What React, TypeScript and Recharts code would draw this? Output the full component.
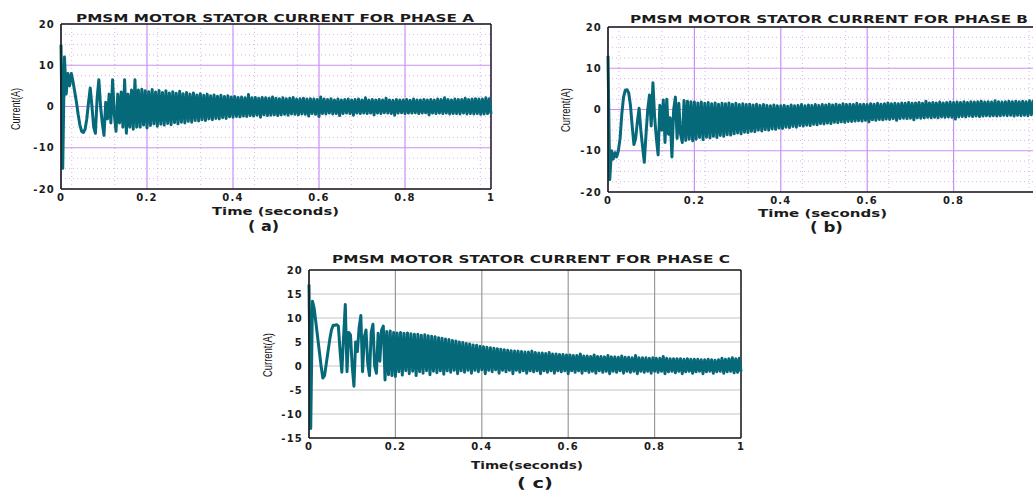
import React from "react";
import {
  LineChart,
  Line,
  XAxis,
  YAxis,
  CartesianGrid,
  ReferenceLine,
} from "recharts";

// sample step of the simulation traces (seconds)
const SAMPLE_STEP = 0.004;

const X_TICKS = [0, 0.2, 0.4, 0.6, 0.8, 1];
// panel b is cropped at the right edge, its "1" label is not in view
const X_TICKS_B = [0, 0.2, 0.4, 0.6, 0.8];
const Y_TICKS_AB = [-20, -10, 0, 10, 20];
const Y_TICKS_C = [-15, -10, -5, 0, 5, 10, 15, 20];

// phase A stator current (A), one value per sample step
const PHASE_A = [
  15, -15, 12, 3, 8, 5, 8, 6, 3.5, 1,
  -2, -4.5, -6, -6.3, -5.5, -3, 1, 4.5, 0, -5,
  -6.5, 2, 6.5, 0, -4, -7, 1, -3, 3, -4,
  6.5, -2, -6, 3, -4, 3.5, -5, 6.5, -6.5, 3,
  -5, 4, -5.5, 6.5, -5, 4, -5, 4.2, -4.5, 3.8,
  -5.2, 3.6, -4.6, 4.1, -4.2, 3.5, -4.8, 3.9, -4.3, 3.4,
  -4.5, 3.8, -4.1, 3.3, -4.4, 3.6, -3.9, 3.2, -4.2, 3.7,
  -3.8, 3.1, -4.0, 3.4, -3.6, 3.0, -3.8, 3.3, -3.4, 2.8,
  -3.5, 3.1, -3.2, 2.7, -3.4, 3.0, -3.0, 2.6, -3.2, 2.8,
  -2.9, 2.5, -3.0, 2.7, -2.7, 2.4, -2.9, 2.6, -2.5, 2.3,
  -2.6, 2.4, -2.4, 2.2, -2.5, 2.3, -2.3, 2.1, -2.4, 2.9,
  -2.2, 2.1, -2.3, 2.2, -2.1, 2.0, -2.6, 2.2, -2.0, 2.1,
  -2.2, 2.0, -2.1, 2.3, -2.0, 2.0, -2.2, 1.9, -2.0, 2.1,
  -1.9, 1.9, -2.1, 2.0, -1.8, 2.2, -1.9, 1.8, -2.0, 1.9,
  -1.8, 2.0, -1.9, 1.8, -2.3, 1.9, -1.7, 1.8, -1.9, 1.7,
  -2.4, 2.3, -1.7, 1.8, -1.8, 1.7, -1.6, 1.9, -1.8, 1.6,
  -1.7, 1.8, -2.2, 1.6, -1.7, 1.7, -1.6, 1.8, -1.7, 1.6,
  -2.1, 1.7, -1.6, 1.8, -1.7, 1.6, -1.6, 2.1, -1.7, 1.6,
  -1.6, 1.7, -2.0, 1.6, -1.6, 1.7, -1.7, 1.6, -1.5, 2.0,
  -1.6, 1.6, -1.7, 1.5, -2.1, 1.7, -1.6, 1.6, -1.5, 1.6,
  -1.7, 1.7, -1.6, 1.5, -1.6, 1.8, -1.5, 1.6, -1.7, 1.6,
  -1.6, 1.7, -1.5, 1.6, -2.0, 1.7, -1.6, 1.6, -1.7, 1.8,
  -1.6, 1.7, -1.7, 2.1, -1.6, 1.7, -1.8, 1.6, -1.7, 1.8,
  -1.7, 1.7, -1.8, 1.7, -1.6, 2.0, -1.8, 1.7, -1.7, 1.8,
  -1.8, 1.9, -1.7, 1.8, -1.9, 1.8, -1.8, 2.1, -1.7, 1.9,
  -1.8,
];

// phase B stator current (A)
const PHASE_B = [
  13, -17, -10, -12, -10.5, -11.5, -10, -7, -1, 3,
  4.7, 4.8, 4, 1, -4, -8.5, -7, -3, 0.3, -5,
  -9, -12.8, -6, 0, 3.5, -4, 6.5, -2, -7, -11,
  1, -5, 2.3, -8, 2.5, -6, -2, -11.5, 0, 3,
  -7, 1.5, -6, -8, 2.2, -7.5, 2, -7.2, 1.9, -7.6,
  1.8, -7.2, 1.6, -6.8, 1.8, -7.3, 1.5, -6.7, 1.7, -6.9,
  1.4, -6.5, 1.6, -6.8, 1.3, -6.3, 1.5, -6.5, 1.4, -6.1,
  1.6, -6.2, 1.3, -5.9, 1.5, -5.7, 1.2, -5.9, 1.4, -5.5,
  1.2, -5.6, 1.3, -5.3, 1.1, -5.4, 1.3, -5.0, 1.0, -5.2,
  1.2, -4.9, 1.0, -5.0, 0.9, -4.7, 1.1, -4.8, 0.9, -4.5,
  0.9, -4.6, 1.0, -4.3, 0.8, -4.4, 1.1, -4.1, 0.9, -4.3,
  1.0, -3.9, 1.2, -4.0, 0.9, -3.8, 1.1, -3.9, 1.0, -3.6,
  1.2, -3.7, 1.0, -3.4, 1.2, -3.5, 1.1, -3.3, 1.3, -3.4,
  1.1, -3.1, 1.3, -3.2, 1.1, -3.0, 1.4, -3.1, 1.2, -2.9,
  1.3, -2.9, 1.2, -2.8, 1.5, -2.7, 1.2, -2.8, 1.3, -2.6,
  1.2, -3.0, 1.4, -2.5, 1.3, -2.6, 1.5, -2.4, 1.3, -2.5,
  1.4, -2.3, 1.6, -2.4, 1.4, -2.2, 1.5, -2.6, 1.4, -2.2,
  1.6, -2.1, 1.5, -2.2, 1.7, -2.1, 1.5, -2.5, 1.6, -2.0,
  1.7, -2.1, 1.5, -2.0, 2.0, -1.9, 1.6, -2.0, 1.7, -1.9,
  1.6, -2.0, 1.8, -1.8, 1.6, -1.9, 1.7, -1.8, 1.8, -1.9,
  1.7, -2.3, 1.8, -1.8, 1.7, -1.7, 1.9, -1.8, 1.7, -1.6,
  1.9, -1.7, 1.8, -1.6, 1.9, -1.7, 2.0, -1.6, 1.8, -1.5,
  1.9, -1.6, 1.8, -1.5, 2.1, -1.6, 1.9, -1.5, 1.8, -1.4,
  1.9, -1.5, 2.0, -1.4, 1.9, -1.6, 2.0, -1.4, 1.9, -1.5,
  2.0, -1.4, 1.9, -1.5, 2.1, -1.3, 2.0, -1.4, 1.9, -1.3,
  2.0,
];

// phase C stator current (A)
const PHASE_C = [
  17, -13, 13.5, 12, 9, 6, 3, 0, -2.5, -2,
  0.5, 3, 5.5, 7.5, 8.5, 8.5, 8.6, 8.3, 3, -1.3,
  6, 12.8, -1.2, 7, 6.5, 0, -4.2, 5, 3, 8,
  10.5, -1.2, 6, 7.5, 0.5, -2, 7, 8.7, 0, -1.5,
  6.8, 1, 7.5, 8.3, -2.9, 7.2, -1.8, 7.3, -2.0, 7.0,
  -2.2, 6.9, -1.2, 7.0, -1.9, 6.8, -1.0, 6.9, -1.6, 6.7,
  -1.1, 6.6, -2.0, 6.6, -1.2, 6.4, -1.5, 6.5, -1.0, 6.3,
  -1.8, 6.2, -1.1, 6.1, -1.4, 5.9, -1.0, 5.8, -1.7, 5.6,
  -1.0, 5.5, -1.3, 5.3, -0.9, 5.2, -1.6, 5.0, -1.0, 4.9,
  -1.3, 4.7, -0.9, 4.6, -1.5, 4.4, -0.9, 4.3, -1.2, 4.1,
  -0.8, 4.0, -1.6, 3.9, -0.9, 3.8, -1.2, 3.7, -0.8, 3.6,
  -1.5, 3.5, -0.9, 3.4, -1.2, 3.3, -0.9, 3.2, -1.6, 3.1,
  -0.9, 3.1, -1.3, 3.0, -1.0, 2.9, -1.5, 2.9, -1.0, 3.1,
  -1.2, 2.8, -1.0, 2.7, -1.6, 2.7, -1.0, 2.6, -1.3, 2.8,
  -1.0, 2.5, -1.5, 2.5, -1.0, 2.4, -1.2, 2.4, -1.0, 2.3,
  -1.6, 2.3, -1.0, 2.2, -1.3, 2.2, -1.0, 2.5, -1.5, 2.1,
  -1.0, 2.1, -1.3, 2.0, -1.1, 2.3, -1.5, 2.0, -1.0, 2.0,
  -1.3, 1.9, -1.1, 2.2, -1.6, 1.9, -1.1, 1.9, -1.3, 1.8,
  -1.0, 2.1, -1.5, 1.8, -1.1, 1.8, -1.3, 1.7, -1.1, 2.2,
  -1.6, 1.7, -1.1, 1.7, -1.3, 1.7, -1.1, 1.6, -1.5, 1.7,
  -1.1, 1.6, -1.3, 1.6, -1.1, 2.0, -1.6, 1.6, -1.2, 1.5,
  -1.1, 1.5, -1.4, 1.5, -1.1, 1.5, -1.6, 1.4, -1.2, 1.5,
  -1.1, 1.4, -1.5, 1.4, -1.2, 1.4, -1.1, 1.3, -1.6, 1.3,
  -1.2, 1.4, -1.1, 1.3, -1.5, 1.2, -1.2, 1.3, -1.1, 1.6,
  -1.5, 1.4, -1.2, 1.5, -1.1, 1.7, -1.4, 1.5, -1.3, 1.6,
  -1.2,
];

const TRACE = "#06697a";
const INK = "#1b1b1b";
const TICK_STYLE = {
  fill: INK,
  fontSize: 10,
  fontWeight: 700,
  fontFamily: "DejaVu Sans",
  letterSpacing: 1.2,
};

// matlab style minor grid: 0.025 s and 2.5 A
const MINOR_X: number[] = [];
for (let i = 1; i < 40; i++) if (i % 8 !== 0) MINOR_X.push(i * 0.025);
const MINOR_Y: number[] = [];
for (let i = -7; i <= 7; i++) if (i % 4 !== 0) MINOR_Y.push(i * 2.5);

const toRows = (vals: number[]) =>
  vals.map((v, i) => ({ t: i * SAMPLE_STEP, v }));

interface PanelProps {
  left: number;
  top: number;
  width: number;
  height: number;
  margin: { top: number; right: number; bottom: number; left: number };
  values: number[];
  xTicks: number[];
  yDomain: [number, number];
  yTicks: number[];
  matlabGrid: boolean;
}

function Panel({
  left,
  top,
  width,
  height,
  margin,
  values,
  xTicks,
  yDomain,
  yTicks,
  matlabGrid,
}: PanelProps) {
  return (
    <div style={{ position: "absolute", left, top }}>
      <LineChart width={width} height={height} data={toRows(values)} margin={margin}>
        {matlabGrid && (
          <CartesianGrid
            verticalValues={MINOR_X}
            horizontalValues={MINOR_Y}
            stroke="#dcb2f0"
            strokeDasharray="1 3"
          />
        )}
        {matlabGrid ? (
          <CartesianGrid
            verticalValues={X_TICKS}
            horizontalValues={yTicks}
            stroke="#c98ff5"
            strokeWidth={1.2}
          />
        ) : (
          <>
            <CartesianGrid
              vertical={false}
              horizontalValues={yTicks}
              stroke="#c4c4c4"
              strokeWidth={1.2}
            />
            <CartesianGrid
              horizontal={false}
              verticalValues={X_TICKS}
              stroke="#9a9a9a"
              strokeWidth={1.2}
            />
          </>
        )}
        <XAxis
          type="number"
          dataKey="t"
          domain={[0, 1]}
          ticks={xTicks}
          tickLine={false}
          tickSize={3}
          tickMargin={2}
          height={26}
          axisLine={{ stroke: INK, strokeWidth: 1.6 }}
          tick={TICK_STYLE}
        />
        <YAxis
          type="number"
          domain={yDomain}
          ticks={yTicks}
          interval={0}
          tickLine={false}
          tickSize={3}
          tickMargin={3}
          width={40}
          axisLine={{ stroke: INK, strokeWidth: 1.6 }}
          tick={TICK_STYLE}
        />
        <ReferenceLine x={1} stroke={INK} strokeWidth={1.4} />
        <ReferenceLine y={yDomain[1]} stroke={INK} strokeWidth={1.4} />
        <Line
          type="linear"
          dataKey="v"
          stroke={TRACE}
          strokeWidth={3}
          strokeLinejoin="round"
          dot={false}
          isAnimationActive={false}
        />
      </LineChart>
    </div>
  );
}

const TITLE_FONT = { fontFamily: "DejaVu Sans", fontWeight: 700, fill: INK };
const YLABEL_FONT = {
  fontFamily: "Liberation Sans Narrow, Liberation Sans",
  fontSize: 13,
  fill: "#111",
};

export default function App() {
  return (
    <div
      style={{
        position: "fixed",
        left: 0,
        top: 0,
        width: 1033,
        height: 492,
        overflow: "hidden",
        background: "#fff",
      }}
    >
      <Panel
        left={0}
        top={0}
        width={520}
        height={215}
        margin={{ top: 24, right: 29, bottom: 0, left: 21 }}
        values={PHASE_A}
        xTicks={X_TICKS}
        yDomain={[-20, 20]}
        yTicks={Y_TICKS_AB}
        matlabGrid
      />
      <Panel
        left={540}
        top={0}
        width={520}
        height={218}
        margin={{ top: 27, right: 20, bottom: 0, left: 28 }}
        values={PHASE_B}
        xTicks={X_TICKS_B}
        yDomain={[-20, 20]}
        yTicks={Y_TICKS_AB}
        matlabGrid
      />
      <Panel
        left={250}
        top={240}
        width={520}
        height={224}
        margin={{ top: 30, right: 29, bottom: 0, left: 19 }}
        values={PHASE_C}
        xTicks={X_TICKS}
        yDomain={[-15, 20]}
        yTicks={Y_TICKS_C}
        matlabGrid={false}
      />
      <svg
        width={1033}
        height={492}
        style={{ position: "absolute", left: 0, top: 0, pointerEvents: "none" }}
      >
        <text x={76} y={21.5} fontSize={10.5} textLength={398} lengthAdjust="spacingAndGlyphs" style={TITLE_FONT}>
          PMSM MOTOR STATOR CURRENT FOR PHASE A
        </text>
        <text x={630} y={22.5} fontSize={10.5} textLength={398} lengthAdjust="spacingAndGlyphs" style={TITLE_FONT}>
          PMSM MOTOR STATOR CURRENT FOR PHASE B
        </text>
        <text x={332} y={262.5} fontSize={10.5} textLength={398} lengthAdjust="spacingAndGlyphs" style={TITLE_FONT}>
          PMSM MOTOR STATOR CURRENT FOR PHASE C
        </text>

        <text x={212} y={215} fontSize={11} textLength={127} lengthAdjust="spacingAndGlyphs" style={TITLE_FONT}>
          Time (seconds)
        </text>
        <text x={758} y={216.5} fontSize={11} textLength={129} lengthAdjust="spacingAndGlyphs" style={TITLE_FONT}>
          Time (seconds)
        </text>
        <text x={471} y={468.5} fontSize={11} textLength={112} lengthAdjust="spacingAndGlyphs" style={TITLE_FONT}>
          Time(seconds)
        </text>

        <text x={248} y={231} fontSize={14} textLength={31} lengthAdjust="spacingAndGlyphs" style={TITLE_FONT}>
          ( a)
        </text>
        <text x={810} y={232} fontSize={14} textLength={33} lengthAdjust="spacingAndGlyphs" style={TITLE_FONT}>
          ( b)
        </text>
        <text x={517} y={488} fontSize={14} textLength={36} lengthAdjust="spacingAndGlyphs" style={TITLE_FONT}>
          ( c)
        </text>

        <text transform="translate(15,109) rotate(-90)" textAnchor="middle" dy="0.35em" textLength={42} lengthAdjust="spacingAndGlyphs" style={YLABEL_FONT}>
          Current(A)
        </text>
        <text transform="translate(565,110) rotate(-90)" textAnchor="middle" dy="0.35em" textLength={44} lengthAdjust="spacingAndGlyphs" style={YLABEL_FONT}>
          Current(A)
        </text>
        <text transform="translate(267,355) rotate(-90)" textAnchor="middle" dy="0.35em" textLength={44} lengthAdjust="spacingAndGlyphs" style={YLABEL_FONT}>
          Current(A)
        </text>
      </svg>
    </div>
  );
}
